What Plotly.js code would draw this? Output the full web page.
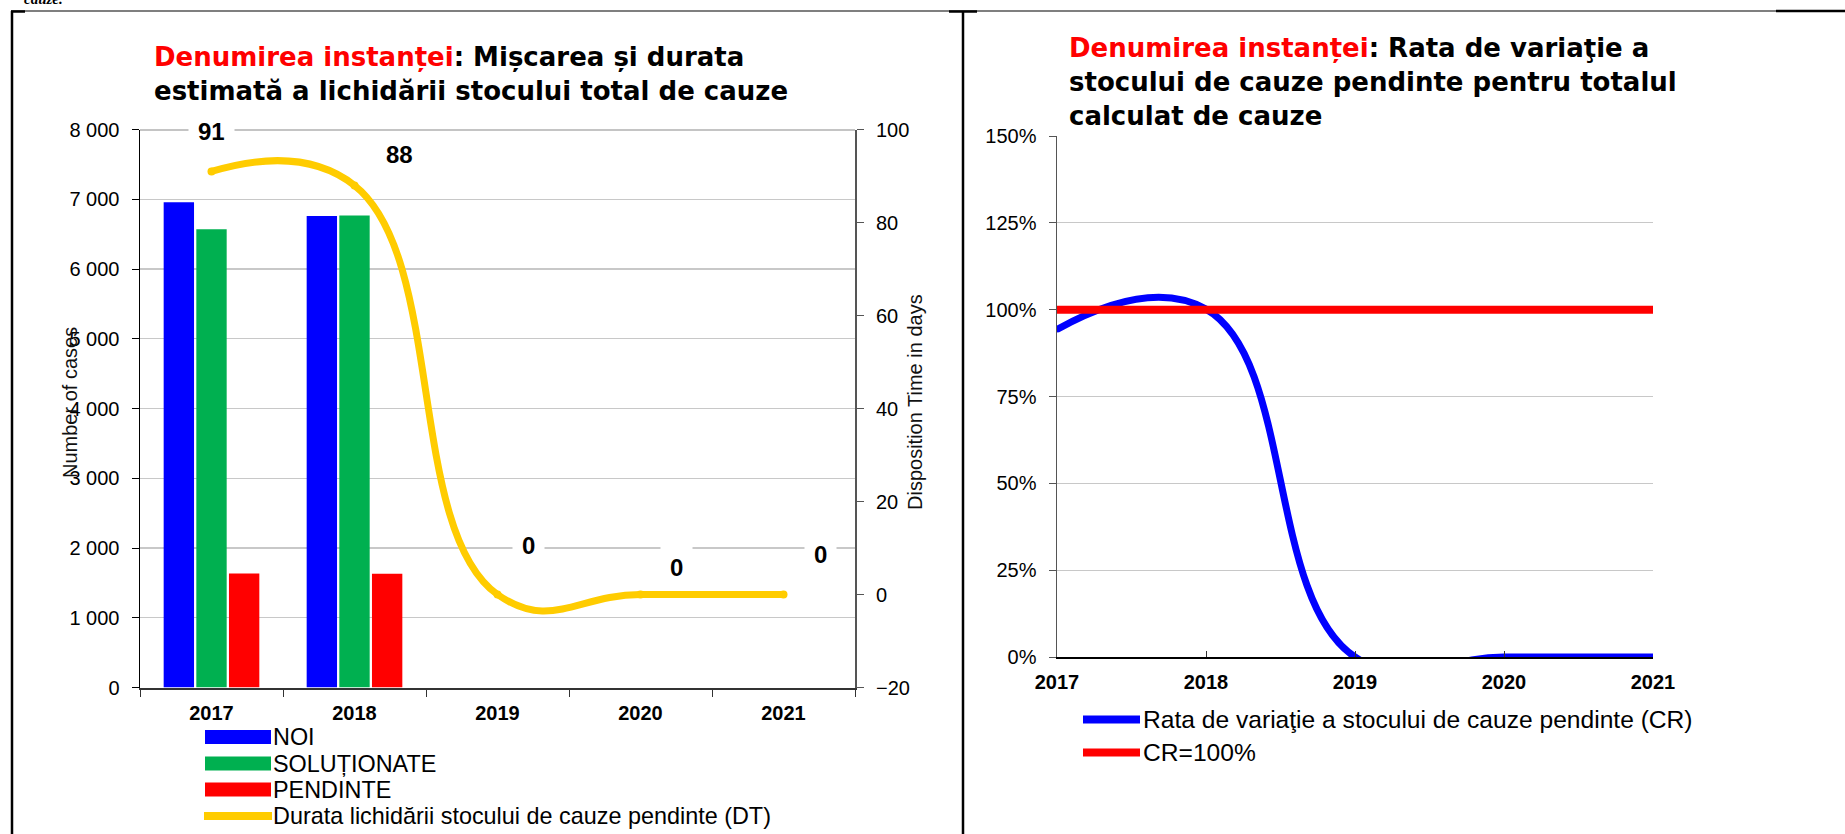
<!DOCTYPE html>
<html>
<head>
<meta charset="utf-8">
<script src="https://cdn.plot.ly/plotly-3.0.1.min.js"></script>
<style>html,body{margin:0;padding:0;background:#fff;}#chart{width:1845px;height:834px;}</style>
</head>
<body>
<div id="chart"></div>
<script>
// ---- data ----
const years = ['2017', '2018', '2019', '2020', '2021'];
const noi = [6960, 6760, 0, 0, 0];
const solutionate = [6570, 6770, 0, 0, 0];
const pendinte = [1635, 1630, 0, 0, 0];
const dt = [91, 88, 0, 0, 0];
const cr = [0.943, 1.0015, 0, 0, 0];
const crTarget = [1, 1, 1, 1, 1];
const leftNames = ['NOI', 'SOLUȚIONATE', 'PENDINTE', 'Durata lichidării stocului de cauze pendinte (DT)'];
const rightNames = ['Rata de variaţie a stocului de cauze pendinte (CR)', 'CR=100%'];
const leftTitleRed = 'Denumirea instanței';
const leftTitleRest = ': Mișcarea și durata<br>estimată a lichidării stocului total de cauze';
const rightTitleRest = ': Rata de variaţie a<br>stocului de cauze pendinte pentru totalul<br>calculat de cauze';
const leftYTitle = 'Number of cases';
const rightYTitle = 'Disposition Time in days';
const headerText = 'cauze.';

// ---- styling helpers ----
const W = 1845, H = 834;
const px = x => x / W;
const py = y => 1 - y / H;
const FONT = 'Liberation Sans, Arial, sans-serif';
const TFONT = 'DejaVu Sans, Verdana, sans-serif';
const cBlue = '#0000FF', cGreen = '#00B050', cRed = '#FF0000', cYellow = '#FFCC00';

const traces = [
  {type: 'bar', x: years, y: noi, name: leftNames[0], marker: {color: cBlue, line: {width: 0}}, xaxis: 'x', yaxis: 'y'},
  {type: 'bar', x: years, y: solutionate, name: leftNames[1], marker: {color: cGreen, line: {width: 0}}, xaxis: 'x', yaxis: 'y'},
  {type: 'bar', x: years, y: pendinte, name: leftNames[2], marker: {color: cRed, line: {width: 0}}, xaxis: 'x', yaxis: 'y'},
  {type: 'scatter', mode: 'lines+markers', x: years, y: dt, name: leftNames[3], xaxis: 'x', yaxis: 'y2',
   line: {color: cYellow, width: 7, shape: 'spline', smoothing: 1.3}, marker: {color: cYellow, size: 8}},
  {type: 'scatter', mode: 'lines+markers', x: years, y: cr, name: rightNames[0], xaxis: 'x2', yaxis: 'y3',
   line: {color: cBlue, width: 7, shape: 'spline', smoothing: 1.3}, marker: {color: cBlue, size: 6}},
  {type: 'scatter', mode: 'lines', x: years, y: crTarget, name: rightNames[1], xaxis: 'x2', yaxis: 'y3',
   line: {color: cRed, width: 8}}
];

const tickFont = {family: FONT, size: 20, color: '#000'};
const boldTick = {family: FONT, size: 20, color: '#000', weight: 'bold'};

// data label offsets (style)
const dtLabelDX = [0, 45, 31, 36, 37];
const dtLabelDY = [40, 31, 49, 27, 40];

const annotations = [];
// titles
annotations.push({xref: 'paper', yref: 'paper', x: px(152), y: py(40), xanchor: 'left', yanchor: 'top', align: 'left', showarrow: false,
  text: '<span style="color:#ff0000">' + leftTitleRed + '</span>' + leftTitleRest,
  font: {family: TFONT, size: 26, color: '#000', weight: 'bold'}});
annotations.push({xref: 'paper', yref: 'paper', x: px(1067), y: py(31), xanchor: 'left', yanchor: 'top', align: 'left', showarrow: false,
  text: '<span style="color:#ff0000">' + leftTitleRed + '</span>' + rightTitleRest,
  font: {family: TFONT, size: 26, color: '#000', weight: 'bold'}});
// axis titles
annotations.push({xref: 'paper', yref: 'paper', x: px(70), y: py(403), xanchor: 'center', yanchor: 'middle', textangle: -90, showarrow: false, text: leftYTitle,
  font: {family: FONT, size: 20, color: '#111'}});
annotations.push({xref: 'paper', yref: 'paper', x: px(915), y: py(402), xanchor: 'center', yanchor: 'middle', textangle: -90, showarrow: false, text: rightYTitle,
  font: {family: FONT, size: 20, color: '#111'}});
// data labels DT (x given as category index)
dt.forEach((v, i) => {
  annotations.push({xref: 'x', yref: 'y2', x: i, y: v, xshift: dtLabelDX[i], yshift: dtLabelDY[i], showarrow: false,
    text: String(v), bgcolor: '#fff', borderpad: 9, font: {family: FONT, size: 24, color: '#000', weight: 'bold'}});
});
// top-left text, cut by the page edge as in the source
annotations.push({xref: 'paper', yref: 'paper', x: px(22), y: py(9), xanchor: 'left', yanchor: 'bottom', showarrow: false,
  text: headerText, font: {family: 'Liberation Serif, Times New Roman, serif', size: 15, color: '#000', weight: 'bold', style: 'italic'}});

// manual legends
const shapes = [];
const leftRows = [737, 763.5, 789.5, 816];
const leftColors = [cBlue, cGreen, cRed];
for (let i = 0; i < 3; i++) {
  shapes.push({type: 'rect', xref: 'paper', yref: 'paper', x0: px(205), x1: px(271), y0: py(leftRows[i] + 7), y1: py(leftRows[i] - 7),
    line: {width: 0}, fillcolor: leftColors[i]});
}
shapes.push({type: 'line', xref: 'paper', yref: 'paper', x0: px(204), x1: px(272), y0: py(leftRows[3]), y1: py(leftRows[3]),
  line: {color: cYellow, width: 8}});
leftNames.forEach((n, i) => {
  annotations.push({xref: 'paper', yref: 'paper', x: px(271), y: py(leftRows[i]), xanchor: 'left', yanchor: 'middle', showarrow: false,
    text: n, font: {family: FONT, size: 23.4, color: '#000'}});
});
const rightRows = [719.5, 752.5];
const rightColors = [cBlue, cRed];
for (let i = 0; i < 2; i++) {
  shapes.push({type: 'line', xref: 'paper', yref: 'paper', x0: px(1083), x1: px(1140), y0: py(rightRows[i]), y1: py(rightRows[i]),
    line: {color: rightColors[i], width: 8}});
  annotations.push({xref: 'paper', yref: 'paper', x: px(1141), y: py(rightRows[i]), xanchor: 'left', yanchor: 'middle', showarrow: false,
    text: rightNames[i], font: {family: FONT, size: 24.6, color: '#000'}});
}
// top frame line of left plot
shapes.push({type: 'line', xref: 'paper', yref: 'y', x0: px(140), x1: px(855), y0: 8000, y1: 8000, line: {color: '#8a8a8a', width: 2}});
// table borders
const border = (x0, y0, x1, y1, w) => shapes.push({type: 'line', xref: 'paper', yref: 'paper', x0: px(x0), x1: px(x1), y0: py(y0), y1: py(y1), line: {color: '#000', width: w}});
border(11, 11, 1845, 11, 1.2);
border(12, 11, 12, 834, 2.5);
border(963, 11, 963, 834, 2.5);
border(11, 11.5, 25, 11.5, 2.5);
border(949, 11.5, 977, 11.5, 2.5);
border(1776, 11, 1845, 11, 2.5);

const layout = {
  width: W, height: H,
  margin: {l: 0, r: 0, t: 0, b: 0},
  paper_bgcolor: '#fff', plot_bgcolor: 'rgba(0,0,0,0)',
  showlegend: false,
  separators: '. ',
  barmode: 'group', bargap: 0.315, bargroupgap: 0.07,
  xaxis: {domain: [px(140), px(855)], type: 'category', anchor: 'y', range: [-0.5, 4.5], showline: true, linecolor: '#333', linewidth: 2,
    ticks: 'outside', tickson: 'boundaries', ticklen: 7, tickcolor: '#333', tickwidth: 1, showgrid: false, tickfont: boldTick, ticklabelstandoff: 6},
  yaxis: {domain: [py(687.5), py(129.6)], anchor: 'x', range: [0, 8000], dtick: 1000, tickformat: ',d', showline: true, linecolor: '#000', linewidth: 1.5,
    ticks: 'outside', ticklen: 7, tickcolor: '#000', gridcolor: '#c8c8c8', gridwidth: 1.3, zeroline: false, tickfont: tickFont, ticklabelstandoff: 8},
  yaxis2: {overlaying: 'y', side: 'right', anchor: 'x', range: [-20, 100], dtick: 20, showgrid: false, showline: true, linecolor: '#555', linewidth: 2,
    ticks: 'outside', ticklen: 7, tickcolor: '#555', zeroline: false, tickfont: tickFont, ticklabelstandoff: 8},
  xaxis2: {domain: [px(1057), px(1653)], type: 'category', anchor: 'y3', range: [0, 4], showline: true, linecolor: '#000', linewidth: 1.5,
    ticks: 'inside', ticklen: 6, tickcolor: '#333', showgrid: false, tickfont: boldTick, ticklabelstandoff: 6},
  yaxis3: {domain: [py(657), py(136)], anchor: 'x2', range: [0, 1.5], dtick: 0.25, tickformat: '.0%', showline: true, linecolor: '#555', linewidth: 1.5,
    ticks: 'outside', ticklen: 7, tickcolor: '#555', gridcolor: '#c8c8c8', gridwidth: 1.3, zeroline: false, tickfont: tickFont, ticklabelstandoff: 8},
  annotations: annotations,
  shapes: shapes
};

Plotly.newPlot('chart', traces, layout, {staticPlot: true, displayModeBar: false});
</script>
</body>
</html>
